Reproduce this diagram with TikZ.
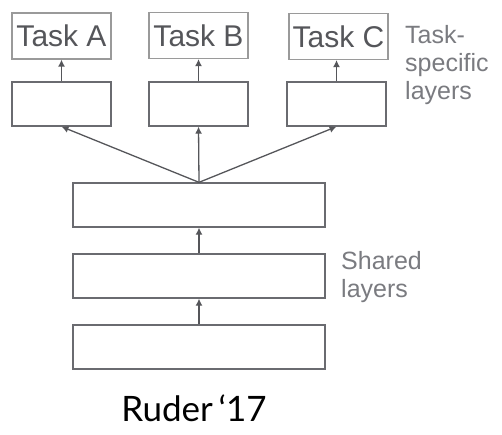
\documentclass[tikz,border=0pt]{standalone}
\usepackage{fontspec}
\setmainfont{Liberation Sans}
\newfontfamily\rudfont{Lato}
\usetikzlibrary{arrows.meta}
\definecolor{boxgray}{HTML}{6A6B70}
\definecolor{taskgray}{HTML}{9A9A9A}
\definecolor{txtgray}{HTML}{55565A}
\definecolor{lblgray}{HTML}{7A7B80}
\tikzset{
  taskbox/.style={draw=taskgray, line width=1.2pt, minimum width=99pt, minimum height=46pt, inner sep=0pt,
    text=txtgray, font=\fontsize{30}{33}\selectfont},
  layerbox/.style={draw=boxgray, line width=1.3pt, minimum width=99pt, minimum height=44pt, inner sep=0pt},
  sharedbox/.style={draw=boxgray, line width=1.3pt, minimum width=252pt, minimum height=44pt, inner sep=0pt},
  conn/.style={draw=txtgray, line width=1.3pt, -{Latex[length=7pt,width=7pt]}},
  lbl/.style={text=lblgray, align=left, anchor=north west, inner sep=0pt,
    font=\fontsize{25}{28}\selectfont}
}
\begin{document}
\begin{tikzpicture}[x=1pt,y=-1pt]
\useasboundingbox (0,0) rectangle (502,435);
\node[taskbox] (ta) at (61.5,36) {Task A};
\node[taskbox] (tb) at (198.5,35.5) {Task B};
\node[taskbox] (tc) at (338.5,36.5) {Task C};
\node[layerbox] (la) at (61.5,104) {};
\node[layerbox] (lb) at (198.5,104) {};
\node[layerbox] (lc) at (336.5,104) {};
\node[sharedbox] (s3) at (199,205) {};
\node[sharedbox] (s2) at (199,276) {};
\node[sharedbox] (s1) at (199,347) {};
\coordinate (apex) at (s3.north);
\draw[conn] (la.north) -- (la.north |- ta.south);
\draw[conn] (lb.north) -- (lb.north |- tb.south);
\draw[conn] (lc.north) -- (lc.north |- tc.south);
\draw[conn] (apex) -- (la.south);
\draw[conn] (apex) -- (lb.south);
\draw[conn] (apex) -- (lc.south);
\draw[conn] (s2.north) -- (s3.south);
\draw[conn] (s1.north) -- (s2.south);
\node[lbl] (tsl) at (405,25) {Task-\\specific\\layers};
\node[lbl] (shl) at (341,251) {Shared\\layers};
\node[anchor=base, inner sep=0pt, font=\rudfont\fontsize{35}{40}\selectfont] (cite) at (194,421) {Ruder\,‘17};
\end{tikzpicture}
\end{document}
